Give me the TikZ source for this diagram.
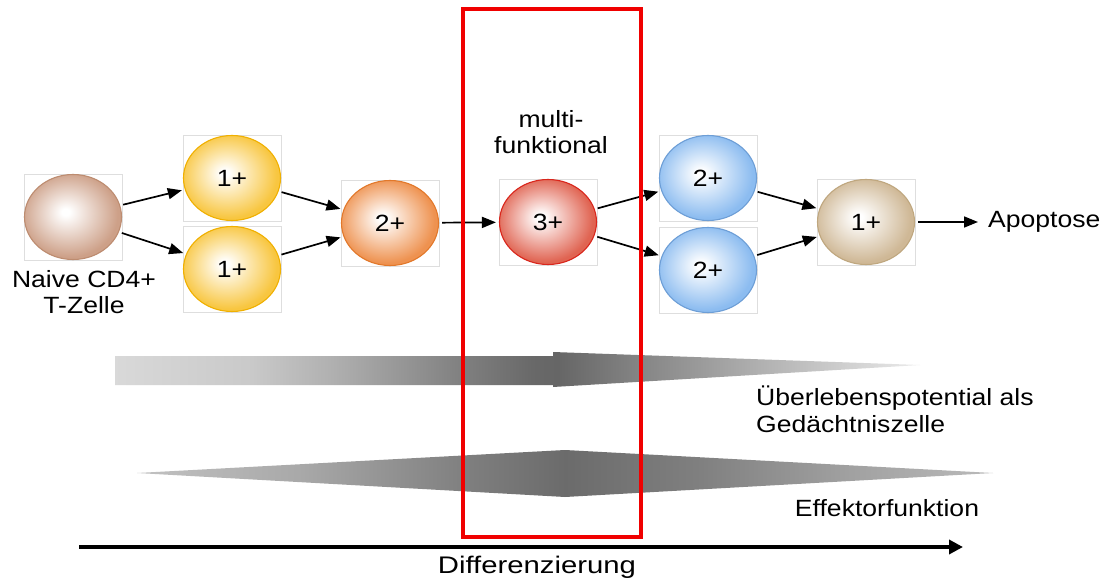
\documentclass[tikz,border=0pt]{standalone}
\usepackage{fontspec}
\setmainfont[FakeStretch=1.13]{Liberation Sans}
\newfontfamily\difffont[FakeStretch=1.22]{Liberation Sans}
\usetikzlibrary{shapes.geometric,arrows.meta,calc}

\colorlet{cellcol}{white}
\definecolor{naiveC}{HTML}{CDA088}\definecolor{naiveB}{HTML}{BD8C70}
\definecolor{yelC}{HTML}{F8C640}\definecolor{yelB}{HTML}{F0B000}
\definecolor{oraC}{HTML}{EE9250}\definecolor{oraB}{HTML}{E2782A}
\definecolor{redC}{HTML}{E06452}\definecolor{redB}{HTML}{D9261C}
\definecolor{bluC}{HTML}{8CBCF0}\definecolor{bluB}{HTML}{6D9ED6}
\definecolor{beiC}{HTML}{CFB896}\definecolor{beiB}{HTML}{BFA77F}
\definecolor{boxred}{HTML}{F00000}

\pgfdeclareradialshading[cellcol]{cellball}{\pgfpoint{-4bp}{3bp}}{%
  color(0bp)=(white); color(2bp)=(white); color(25bp)=(cellcol); color(50bp)=(cellcol)}

\pgfdeclarehorizontalshading{survshade}{100bp}{%
  rgb(0bp)=(0.85,0.85,0.85); rgb(25bp)=(0.85,0.85,0.85);
  rgb(33.4bp)=(0.79,0.79,0.79); rgb(38.5bp)=(0.69,0.69,0.69);
  rgb(46.6bp)=(0.50,0.50,0.50); rgb(51bp)=(0.41,0.41,0.41);
  rgb(52.5bp)=(0.40,0.40,0.40); rgb(57.6bp)=(0.52,0.52,0.52);
  rgb(65bp)=(0.69,0.69,0.69); rgb(72.5bp)=(0.86,0.86,0.86);
  rgb(75bp)=(0.93,0.93,0.93); rgb(100bp)=(0.93,0.93,0.93)}

\pgfdeclarehorizontalshading{effshade}{100bp}{%
  rgb(0bp)=(0.76,0.76,0.76); rgb(25bp)=(0.76,0.76,0.76);
  rgb(34.6bp)=(0.66,0.66,0.66); rgb(44.1bp)=(0.50,0.50,0.50);
  rgb(50bp)=(0.42,0.42,0.42); rgb(57.8bp)=(0.50,0.50,0.50);
  rgb(66.6bp)=(0.63,0.63,0.63); rgb(74.9bp)=(0.73,0.73,0.73);
  rgb(100bp)=(0.73,0.73,0.73)}

\tikzset{
  every node/.style={font=\fontsize{23.5}{26.5}\selectfont},
  cell/.style args={#1/#2}{ellipse, minimum width=97pt, minimum height=85pt,
    inner sep=0pt, draw=#2, line width=1.1pt,
    /utils/exec={\colorlet{cellcol}{#1}}, shade, shading=cellball},
  frame/.style={draw=black!13, line width=0.8pt},
  conn/.style={-{Triangle[length=14pt,width=11pt]}, line width=1.7pt,
    shorten <=3pt, shorten >=3pt},
  bigarrow/.style={-{Triangle[length=14pt,width=14pt]}, line width=4pt},
  label/.style={align=center, inner sep=2pt},
}

\begin{document}
\begin{tikzpicture}[x=1pt, y=-1pt]
\fill[white] (0,0) rectangle (1106,580);
\useasboundingbox (0,0) rectangle (1106,580);

% cell positions
\coordinate (pN) at (73,217);
\coordinate (pA1) at (232,178);
\coordinate (pA2) at (232,269);
\coordinate (pB) at (390,223);
\coordinate (pC) at (548,222);
\coordinate (pD1) at (708,178);
\coordinate (pD2) at (708,270);
\coordinate (pE) at (866,222);

% light frames behind the cells
\foreach \p in {pN,pA1,pA2,pB,pC,pD1,pD2,pE}
  \draw[frame] ($(\p)+(-49,-43)$) rectangle ($(\p)+(49,43)$);

% cells
\node[cell=naiveC/naiveB] (naive) at (pN) {};
\node[cell=yelC/yelB] (a1) at (pA1) {1+};
\node[cell=yelC/yelB] (a2) at (pA2) {1+};
\node[cell=oraC/oraB] (b) at (pB) {2+};
\node[cell=redC/redB] (c) at (pC) {3+};
\node[cell=bluC/bluB] (d1) at (pD1) {2+};
\node[cell=bluC/bluB] (d2) at (pD2) {2+};
\node[cell=beiC/beiB] (e) at (pE) {1+};

% labels
\node[label] (naivelbl) at (84,292) {Naive CD4+\\T-Zelle};
\node[label] (multi) at (551,132) {multi-\\funktional};
\node[anchor=west, inner sep=2pt] (apo) at (986,222) {Apoptose};

% connectors
\draw[conn] (naive) -- (a1);
\draw[conn] (naive) -- (a2);
\draw[conn] (a1) -- (b);
\draw[conn] (a2) -- (b);
\draw[conn] (b) -- (c);
\draw[conn] (c) -- (d1);
\draw[conn] (c) -- (d2);
\draw[conn] (d1) -- (e);
\draw[conn] (d2) -- (e);
\draw[conn, shorten >=8pt] (e) -- (apo.west);

% gradient arrows
\shade[shading=survshade] (115,356) -- (553,356) -- (553,352) -- (920,365)
  -- (553,387) -- (553,385) -- (115,385) -- cycle;
\shade[shading=effshade] (137,473) -- (565,450) -- (993,473) -- (565,497) -- cycle;

\node[anchor=west, align=left, inner sep=0pt] (surv) at (756,409.5)
  {Überlebenspotential als\\Gedächtniszelle};
\node[inner sep=0pt] (eff) at (887,508) {Effektorfunktion};

% differentiation axis
\coordinate (dstart) at (79,547);
\coordinate (dend) at (963,547);
\draw[bigarrow] (dstart) -- (dend);
\node[inner sep=0pt, font=\difffont\fontsize{24}{28}\selectfont] (diff) at (537,567) {Differenzierung};

% highlight box
\draw[boxred, line width=3.2pt] (463,9) rectangle (641,537);
\end{tikzpicture}
\end{document}
